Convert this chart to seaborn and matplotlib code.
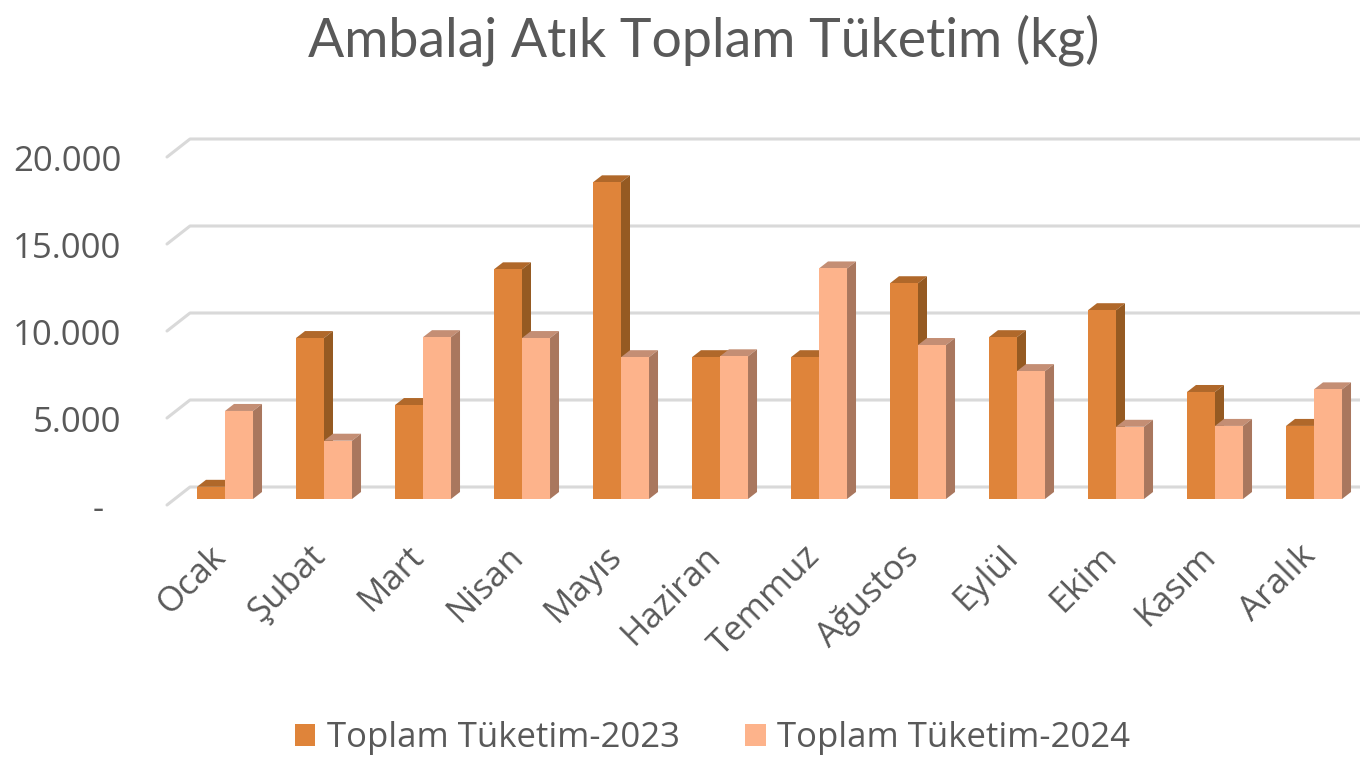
import matplotlib
matplotlib.use("Agg")
import matplotlib.pyplot as plt
import matplotlib.transforms as mtrans
from matplotlib.patches import Polygon
import pandas as pd
import seaborn as sns

months = ["Ocak", "Şubat", "Mart", "Nisan", "Mayıs", "Haziran", "Temmuz",
          "Ağustos", "Eylül", "Ekim", "Kasım", "Aralık"]
total_2023 = [700, 9250, 5400, 13200, 18200, 8150, 8150, 12400, 9300, 10850, 6150, 4200]
total_2024 = [5060, 3350, 9300, 9250, 8150, 8200, 13250, 8850, 7350, 4150, 4200, 6300]
series_names = ["Toplam Tüketim-2023", "Toplam Tüketim-2024"]
y_ticks = [0, 5000, 10000, 15000, 20000]
y_labels = ["-", "5.000", "10.000", "15.000", "20.000"]
title = "Ambalaj Atık Toplam Tüketim (kg)"

FRONT = ["#DF843A", "#FDB38B"]
TOP = ["#B0682A", "#C48E74"]
SIDE = ["#955A22", "#A9775E"]
GRID = "#D9D9D9"
TEXT = "#595959"

W, H = 1360, 758
PX_X = 99.0            # pixels per category
PX_Y = 348 / 20000     # pixels per unit
sns.set_theme(style="white")
plt.rcParams["font.family"] = ["Open Sans", "DejaVu Sans"]

fig = plt.figure(figsize=(W / 100, H / 100), dpi=100, facecolor="white")
ax = fig.add_axes([167 / W, 1 - 499 / H, (W - 167) / W, 348 / H])

df = pd.DataFrame({"Ay": months * 2,
                   "Seri": [series_names[0]] * 12 + [series_names[1]] * 12,
                   "Deger": total_2023 + total_2024})
sns.barplot(data=df, x="Ay", y="Deger", hue="Seri", order=months, hue_order=series_names,
            palette=FRONT, width=0.566, saturation=1, ax=ax, legend=True, linewidth=0, errorbar=None)
x0 = (167 - 225) / PX_X
x1 = (W - 225) / PX_X
ax.set_xlim(x0, x1)
ax.set_ylim(0, 20000)
ax.set_xlabel("")
ax.set_ylabel("")
sns.despine(ax=ax, left=True, bottom=True, top=True, right=True)

# depth of the bars and walls, converted from pixels
dx, dy = 9 / PX_X, 7 / PX_Y
for t in y_ticks:
    fy = t - 6 / PX_Y
    by = t + 12 / PX_Y
    bx = x0 + 23 / PX_X
    ax.plot([x0, bx, x1], [fy, by, by], color=GRID, lw=2.2, zorder=1, clip_on=False,
            solid_joinstyle="round")

for k, cont in enumerate(ax.containers):
    for bar in cont:
        l, w, h = bar.get_x(), bar.get_width(), bar.get_height()
        bar.set_zorder(3 + 2 * k)
        r = l + w
        ax.add_patch(Polygon([(l, h), (r, h), (r + dx, h + dy), (l + dx, h + dy)], closed=True,
                             fc=TOP[k], ec="none", zorder=2 + 2 * k, clip_on=False))
        ax.add_patch(Polygon([(r, 0), (r + dx, dy), (r + dx, h + dy), (r, h)], closed=True,
                             fc=SIDE[k], ec="none", zorder=2 + 2 * k, clip_on=False))

ax.set_yticks(y_ticks, y_labels)
ax.tick_params(axis="y", length=0, pad=33, labelsize=25, labelcolor=TEXT)
ax.tick_params(axis="x", length=0, pad=29, labelsize=25, labelcolor=TEXT)
shift = mtrans.ScaledTranslation(0, -7 / 100, fig.dpi_scale_trans)
dash_shift = mtrans.ScaledTranslation(-17 / 100, -7 / 100, fig.dpi_scale_trans)
for i, lab in enumerate(ax.get_yticklabels()):
    lab.set_transform(lab.get_transform() + (dash_shift if y_labels[i] == "-" else shift))
xshift = mtrans.ScaledTranslation(-16 / 100, 0, fig.dpi_scale_trans)
for lab in ax.get_xticklabels():
    lab.set_rotation(45)
    lab.set_ha("right")
    lab.set_rotation_mode("anchor")
    lab.set_transform(lab.get_transform() + xshift)

handles, labels = ax.get_legend_handles_labels()
ax.get_legend().remove()
fig.legend(handles, labels, loc="center", bbox_to_anchor=(712.5 / W, 1 - 738 / H), ncol=2, frameon=False,
           fontsize=25, labelcolor=TEXT, handlelength=0.6, handleheight=0.6, handletextpad=0.32,
           columnspacing=1.9, borderpad=0)

fig.text(704 / W, 1 - 40 / H, title, ha="center", va="center", fontsize=38.6, color=TEXT,
         family=["Lato", "DejaVu Sans"])
fig.savefig("out.png", dpi=100, facecolor="white")
